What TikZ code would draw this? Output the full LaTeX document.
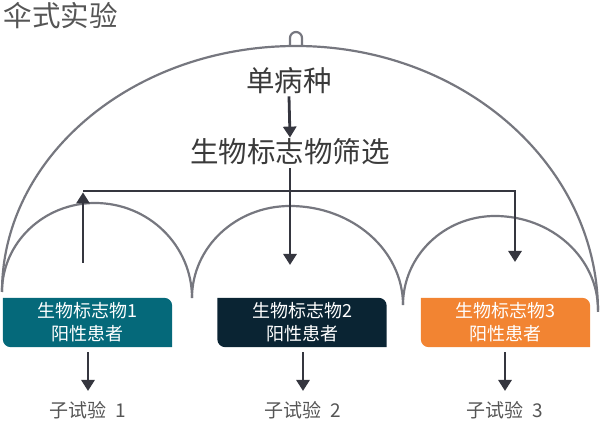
\documentclass[tikz,border=0pt]{standalone}
\usepackage{fontspec}
\setmainfont{Noto Sans CJK SC}
\usetikzlibrary{arrows.meta,backgrounds}
\definecolor{arcgray}{HTML}{76777F}
\definecolor{arrowc}{HTML}{35363F}
\definecolor{textc}{HTML}{3A3A3A}
\definecolor{labc}{HTML}{555555}
\definecolor{cteal}{HTML}{05697A}
\definecolor{cnavy}{HTML}{0A2433}
\definecolor{corange}{HTML}{F28432}
\tikzset{
  x=1pt,y=1pt,
  umb/.style={draw=arcgray,line width=2.2pt},
  arr/.style={draw=arrowc,line width=2.8pt,-{Triangle[length=11pt,width=13pt]}},
  box/.style={minimum width=169pt,minimum height=49pt,inner sep=0pt,text=white,
    font=\fontsize{18}{23}\selectfont,align=center},
  big/.style={text=textc,inner sep=0pt,font=\fontsize{28.5}{32}\selectfont},
  sub/.style={text=labc,inner sep=0pt,font=\fontsize{19}{22}\selectfont},
}
\newcommand{\boxbg}[2]{%
  \fill[#2] (#1.north west) -- ([xshift=-8pt]#1.north east)
    arc[start angle=90,end angle=0,radius=8pt] -- (#1.south east)
    -- ([xshift=8pt]#1.south west) arc[start angle=270,end angle=180,radius=8pt] -- cycle;}
\begin{document}
\begin{tikzpicture}
\useasboundingbox (0,0) rectangle (600,422);
% title
\node[text=labc,inner sep=0pt,font=\fontsize{28.5}{32}\selectfont] (title) at (61,406) {伞式实验};
% big umbrella
\draw[umb] (2,130) arc[start angle=180,end angle=90,x radius=294,y radius=246]
  arc[start angle=90,end angle=0,x radius=302,y radius=266];
\draw[umb] (290,376) -- (290,384) arc[start angle=180,end angle=0,radius=6] -- (302,376);
% small scallops
\draw[umb] (2,130) arc[start angle=180,end angle=90,x radius=93,y radius=89]
  arc[start angle=90,end angle=0,x radius=97,y radius=95];
\draw[umb] (192,124) arc[start angle=180,end angle=90,x radius=98,y radius=92]
  arc[start angle=90,end angle=0,x radius=113,y radius=99];
\draw[umb] (403,117) arc[start angle=180,end angle=90,x radius=92,y radius=89]
  arc[start angle=90,end angle=0,x radius=103,y radius=94];
% top texts
\node[big] (d) at (289,341) {单病种};
\node[big] (f) at (290,270) {生物标志物筛选};
\coordinate (j) at (290,231);
\coordinate (l) at (83,231);
\coordinate (r) at (515,231);
\coordinate (l0) at (83,159);
\coordinate (m1) at (290,157);
\coordinate (r1) at (515,160);
\draw[arr] ([yshift=-2pt]d.south) -- ([yshift=1pt]f.north);
\draw[draw=arrowc,line width=2.8pt] (l) -- (r);
\draw[arr] ([yshift=-3pt]f.south) -- (m1);
\draw[arr] (l0) -- ([yshift=-1.4pt]l);
\draw[arr] ([xshift=-1.4pt]r) -- ++(1.4pt,0) -- (r1);
% boxes
\node[box] (b1) at (87.5,99.5) {生物标志物1\\阳性患者};
\node[box] (b2) at (302,99.5) {生物标志物2\\阳性患者};
\node[box] (b3) at (505.5,99.5) {生物标志物3\\阳性患者};
\begin{scope}[on background layer]
\boxbg{b1}{cteal}
\boxbg{b2}{cnavy}
\boxbg{b3}{corange}
\end{scope}
% sub trials
\node[sub] (s1) at (88,12) {子试验\ \ 1};
\node[sub] (s2) at (303,12) {子试验\ \ 2};
\node[sub] (s3) at (505,12) {子试验\ \ 3};
\draw[arr] ([yshift=-5pt]b1.south -| s1) -- ([yshift=10pt]s1.north);
\draw[arr] ([yshift=-5pt]b2.south -| s2) -- ([yshift=10pt]s2.north);
\draw[arr] ([yshift=-5pt]b3.south -| s3) -- ([yshift=10pt]s3.north);
\end{tikzpicture}
\end{document}
